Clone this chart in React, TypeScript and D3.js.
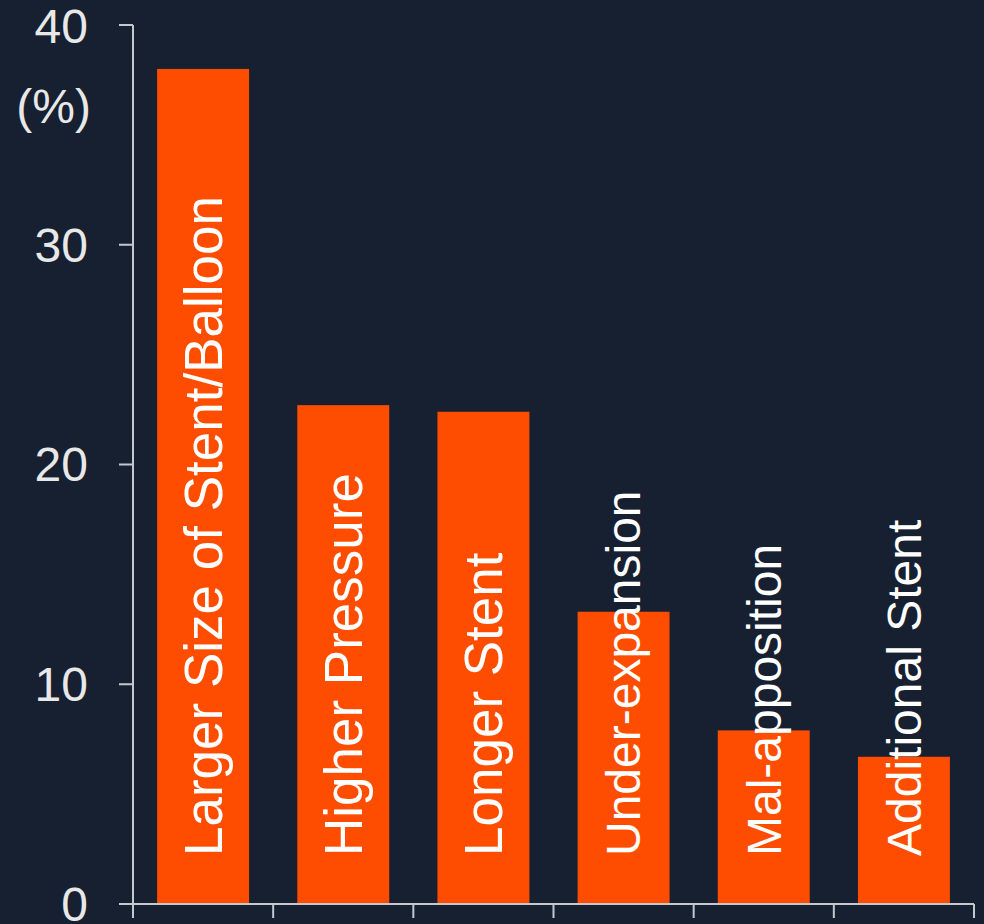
import React, { useEffect } from "react";
import * as d3 from "d3";

const categories = [
  "Larger Size of Stent/Balloon",
  "Higher Pressure",
  "Longer Stent",
  "Under-expansion",
  "Mal-apposition",
  "Additional Stent",
];
const values = [38, 22.7, 22.4, 13.3, 7.9, 6.7];
const yTicks = [0, 10, 20, 30, 40];
const yUnit = "(%)";

const W = 984;
const H = 924;
const BG = "#162030";
const BAR = "#FF4D00";
const AXIS = "#c4c8cc";
const FONT = "'Liberation Sans', Arial, sans-serif";

export default function App() {
  useEffect(() => {
    document.body.style.margin = "0";
    document.body.style.background = BG;
  }, []);

  const x0 = 133;
  const x1 = 974;
  const x = d3.scaleBand<string>().domain(categories).range([x0, x1]).paddingInner(0.344).paddingOuter(0.172);
  const y = d3.scaleLinear().domain([0, 40]).range([904, 25]);
  const step = x.step();
  const boundaries = d3.range(categories.length + 1).map((i) => x0 + i * step);

  return (
    <svg width={W} height={H} style={{ display: "block", position: "absolute", left: 0, top: 0 }}>
      <rect x={0} y={0} width={W} height={H} fill={BG} />
      {categories.map((c, i) => (
        <rect key={c} x={x(c)} y={y(values[i])} width={x.bandwidth()} height={y(0) - y(values[i])} fill={BAR} />
      ))}
      {/* y axis */}
      <line x1={x0} x2={x0} y1={y(40)} y2={y(0)} stroke={AXIS} strokeWidth={2} />
      {yTicks.map((t) => (
        <g key={t}>
          <line x1={119} x2={x0} y1={y(t)} y2={y(t)} stroke={AXIS} strokeWidth={2} />
          <text x={88} y={y(t)} dy={t === 40 ? "0.38em" : "0.35em"} textAnchor="end" fill="#e8e8e8" fontFamily={FONT} fontSize={48}>
            {t}
          </text>
        </g>
      ))}
      <text x={91} y={106} dy="0.36em" textAnchor="end" fill="#e8e8e8" fontFamily={FONT} fontSize={48}>
        {yUnit}
      </text>
      {/* x axis */}
      <line x1={119} x2={x1} y1={y(0)} y2={y(0)} stroke={AXIS} strokeWidth={2} />
      {boundaries.map((b, i) => (
        <line key={i} x1={b} x2={b} y1={y(0)} y2={918} stroke={AXIS} strokeWidth={2} />
      ))}
      {/* bar labels */}
      {categories.map((c, i) => {
        const cx = (x(c) as number) + x.bandwidth() / 2;
        const fs = i < 3 ? 53 : 48;
        return (
          <text
            key={c}
            transform={`translate(${cx + fs * 0.35},856) rotate(-90)`}
            fill="#ffffff"
            fontFamily={FONT}
            fontSize={fs}
          >
            {c}
          </text>
        );
      })}
    </svg>
  );
}
